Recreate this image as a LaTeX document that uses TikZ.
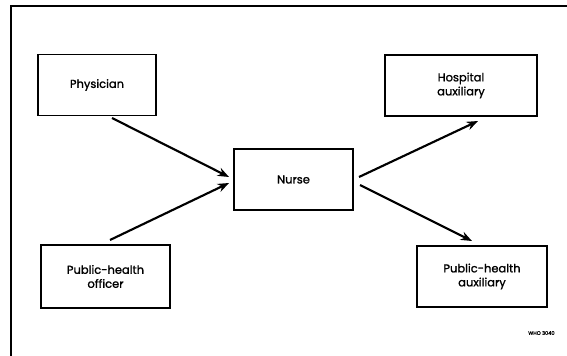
\documentclass[tikz,border=0pt]{standalone}
\usepackage{fontspec}
\setmainfont{Poppins}[UprightFeatures={FakeBold=1.3}]
\usetikzlibrary{arrows.meta}
\begin{document}
\begin{tikzpicture}[x=0.75pt,y=-0.75pt,
  box/.style={draw,line width=1.1pt,rectangle,align=center,inner sep=0pt,font=\fontsize{8.6}{10.5}\selectfont},
  arr/.style={line width=1.6pt,-{Stealth[length=8.5pt,width=6.5pt]}}]
\clip (0,0) rectangle (567,356);
\fill[white] (0,0) rectangle (567,356);
\draw[line width=1.1pt] (11,6) rectangle (620,420);
\node[box,minimum width=88.5pt,minimum height=45.75pt] (phys) at (97,85) {Physician};
\node[box,minimum width=114pt,minimum height=45.75pt] (hosp) at (461,85.5) {Hospital\\auxiliary};
\node[box,minimum width=89.25pt,minimum height=45.75pt] (nurse) at (293.5,179.5) {Nurse};
\node[box,minimum width=96.75pt,minimum height=47.25pt] (pho) at (105.5,276.5) {Public-health\\officer};
\node[box,minimum width=97.5pt,minimum height=45.75pt] (pha) at (482,276.5) {Public-health\\auxiliary};
\coordinate (a1s) at (112,118);
\coordinate (a1e) at (229,177);
\coordinate (a2s) at (110,240);
\coordinate (a2e) at (229,183);
\coordinate (a3s) at (359,177);
\coordinate (a3e) at (478,121);
\coordinate (a4s) at (360,185);
\coordinate (a4e) at (472,241);
\draw[arr] (a1s) -- (a1e);
\draw[arr] (a2s) -- (a2e);
\draw[arr] (a3s) -- (a3e);
\draw[arr] (a4s) -- (a4e);
\node[font=\fontsize{3.8}{4}\selectfont,anchor=west,inner sep=0pt] (who) at (528,333) {WHO 3040};
\end{tikzpicture}
\end{document}
